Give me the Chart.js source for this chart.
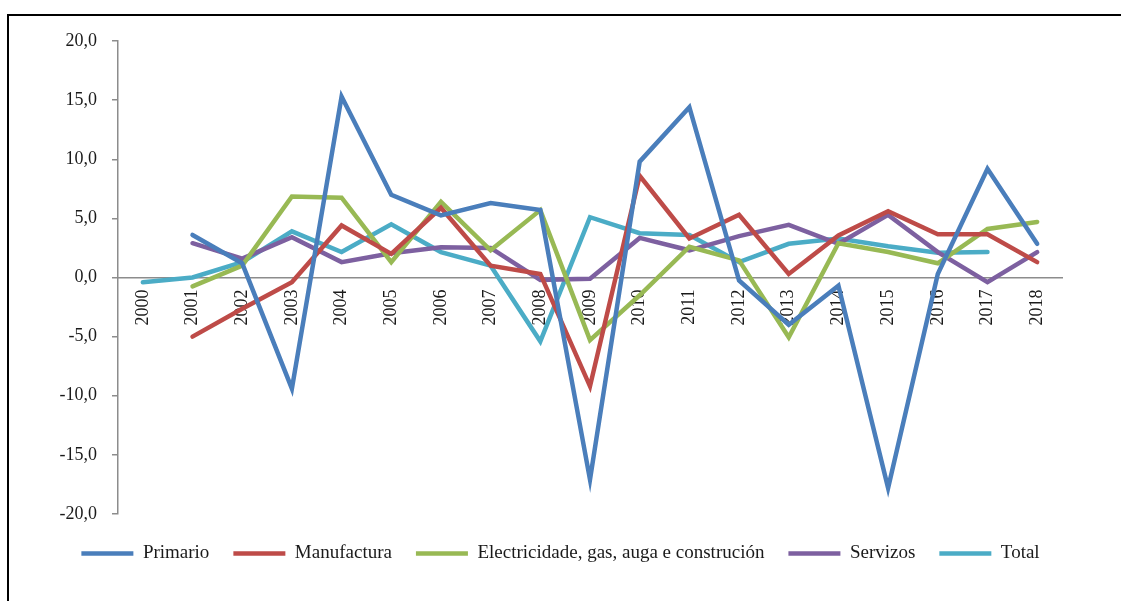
<!DOCTYPE html>
<html>
<head>
<meta charset="utf-8">
<script src="https://cdn.jsdelivr.net/npm/chart.js@4"></script>
<style>
  html, body { margin: 0; padding: 0; background: #fff; overflow: hidden; }
  #frame { position: absolute; left: 7px; top: 14px; width: 1300px; height: 800px; border: 2px solid #000; }
  #wrap { position: absolute; left: 0; top: 0; width: 1121px; height: 601px; }
</style>
</head>
<body>
<div id="frame"></div>
<div id="wrap"><canvas id="line-chart"></canvas></div>
<script>
const years = ["2000", "2001", "2002", "2003", "2004", "2005", "2006", "2007", "2008", "2009",
  "2010", "2011", "2012", "2013", "2014", "2015", "2016", "2017", "2018"];

const primario = [null, 3.6, 1.2, -9.4, 15.3, 7.0, 5.25, 6.3, 5.7, -17.1,
  9.8, 14.4, -0.25, -4.0, -0.7, -17.8, 0.3, 9.2, 2.85];
const manufactura = [null, -5.0, -2.65, -0.4, 4.4, 2.0, 5.9, 1.0, 0.3, -9.2,
  8.6, 3.3, 5.3, 0.3, 3.55, 5.6, 3.65, 3.65, 1.3];
const electricidade = [null, -0.75, 1.0, 6.85, 6.75, 1.3, 6.4, 2.3, 5.7, -5.3,
  -1.5, 2.6, 1.45, -5.05, 2.9, 2.15, 1.2, 4.1, 4.7];
const servizos = [null, 2.9, 1.6, 3.4, 1.3, 2.05, 2.55, 2.5, -0.2, -0.1,
  3.35, 2.3, 3.5, 4.45, 2.85, 5.3, 2.15, -0.4, 2.15];
const total = [-0.4, 0.0, 1.3, 3.9, 2.15, 4.5, 2.15, 1.0, -5.4, 5.1,
  3.75, 3.6, 1.3, 2.85, 3.3, 2.65, 2.1, 2.15, null];

const font = "'Liberation Serif', 'Times New Roman', serif";

function serie(label, data, color) {
  return {
    label: label,
    data: data,
    borderColor: color,
    backgroundColor: color,
    borderWidth: 4.5,
    borderCapStyle: "round",
    pointRadius: 0,
    pointHoverRadius: 0,
    tension: 0,
    fill: false,
  };
}

new Chart(document.getElementById("line-chart"), {
  type: "line",
  data: {
    labels: years,
    datasets: [
      serie("Primario", primario, "#4a7ebb"),
      serie("Manufactura", manufactura, "#be4b48"),
      serie("Electricidade, gas, auga e construción", electricidade, "#98b954"),
      serie("Servizos", servizos, "#7d60a0"),
      serie("Total", total, "#4bacc6"),
    ],
  },
  options: {
    responsive: true,
    maintainAspectRatio: false,
    animation: false,
    layout: { padding: { top: 41, bottom: 28, left: 0, right: 0 } },
    plugins: {
      tooltip: { enabled: false },
      legend: {
        position: "bottom",
        // empty title only pushes the legend row a little lower
        title: { display: true, text: "", padding: 0, font: { size: 5 } },
        labels: {
          usePointStyle: true,
          pointStyle: "line",
          pointStyleWidth: 52,
          boxHeight: 5,
          padding: 24,
          color: "#1a1a1a",
          font: { family: font, size: 19 },
        },
      },
    },
    scales: {
      x: {
        position: { y: 0 },
        offset: true,
        grid: { display: false },
        border: { display: true, color: "#8c8c8c", width: 1.5 },
        ticks: {
          minRotation: 90,
          maxRotation: 90,
          autoSkip: false,
          padding: 4,
          color: "#1a1a1a",
          font: { family: font, size: 18 },
        },
      },
      y: {
        min: -20,
        max: 20,
        afterFit: (s) => { s.width = 118; },
        grid: { drawOnChartArea: false, tickLength: 6, color: "#8c8c8c", lineWidth: 1.5 },
        border: { display: true, color: "#8c8c8c", width: 1.5 },
        ticks: {
          stepSize: 5,
          padding: 15,
          color: "#1a1a1a",
          font: { family: font, size: 18 },
          callback: (v) => v.toFixed(1).replace(".", ","),
        },
      },
      y2: {
        position: "right",
        afterFit: (s) => { s.width = 59; },
        grid: { display: false },
        border: { display: false },
        ticks: { display: false },
      },
    },
  },
});
</script>
</body>
</html>
